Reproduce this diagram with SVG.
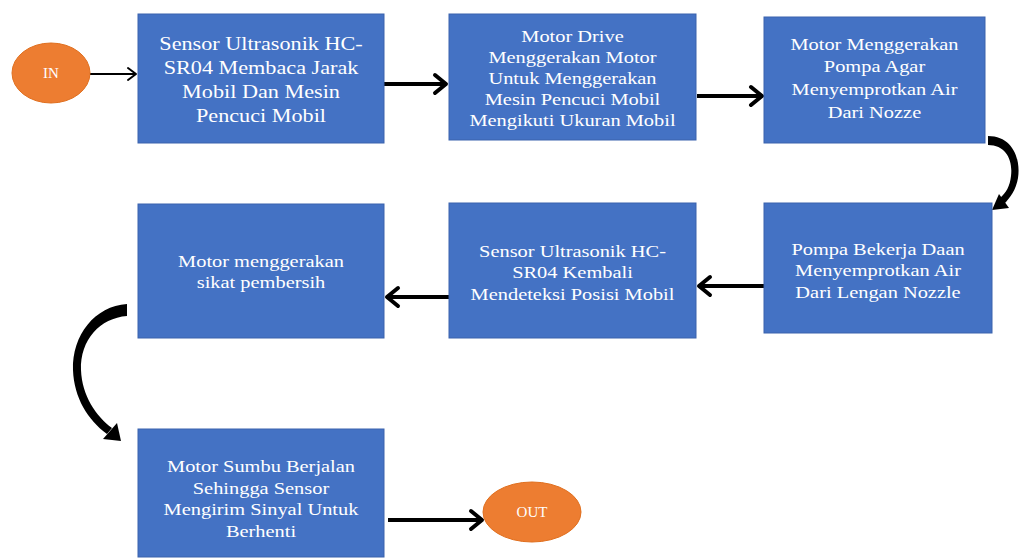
<svg xmlns="http://www.w3.org/2000/svg" width="1020" height="560" viewBox="0 0 1020 560">
<style>
.box{fill:#4472C4;stroke:#3A63AD;stroke-width:1}
.term{fill:#ED7D31;stroke:#E07020;stroke-width:1}
.lbl{fill:#FFFFFF;font-family:"Liberation Serif","Times New Roman",serif;font-size:17px;text-anchor:middle}
.big{font-size:18.5px}
.tl{fill:#FFFFFF;font-family:"Liberation Serif","Times New Roman",serif;font-size:15px;text-anchor:middle}
.thick{stroke:#000;stroke-width:4;fill:none}
.thin{stroke:#000;stroke-width:2;fill:none}
.blk{fill:#000;stroke:none}
</style>
<defs>
<marker id="chevL" markerUnits="userSpaceOnUse" markerWidth="18" markerHeight="24" viewBox="0 0 18 24" refX="14" refY="12" orient="auto">
<path d="M3,3 L14,12 L3,21" fill="none" stroke="#000" stroke-width="4" stroke-linecap="round" stroke-linejoin="round"/>
</marker>
<marker id="chevS" markerUnits="userSpaceOnUse" markerWidth="14" markerHeight="16" viewBox="0 0 14 16" refX="11" refY="8" orient="auto">
<path d="M3,2 L11,8 L3,14" fill="none" stroke="#000" stroke-width="2" stroke-linecap="round" stroke-linejoin="round"/>
</marker>
</defs>
<rect width="1020" height="560" fill="#FFFFFF"/>

<g id="connectors">
<line class="thin" x1="90" y1="74" x2="136" y2="74" marker-end="url(#chevS)"/>
<line class="thick" x1="384" y1="84" x2="446" y2="84" marker-end="url(#chevL)"/>
<line class="thick" x1="697" y1="96" x2="762" y2="96" marker-end="url(#chevL)"/>
<line class="thick" x1="764" y1="286" x2="699" y2="286" marker-end="url(#chevL)"/>
<line class="thick" x1="449" y1="297" x2="387" y2="297" marker-end="url(#chevL)"/>
<line class="thick" x1="388" y1="520" x2="482" y2="520" marker-end="url(#chevL)"/>
<path class="blk" d="M988,136 C1012,136 1021,158 1018,178 C1016,190 1010,198 1004,204 L1000,198 C1006,193 1010,186 1011,176 C1013,160 1006,145 988,145 Z"/>
<polygon class="blk" points="1009,208 999,194 992,210"/>
<path class="blk" d="M127,304 C95,306 72,335 73,370 C74,398 88,420 107,434 L112,428 C96,416 82,396 81,370 C80,340 100,318 127,316 Z"/>
<polygon class="blk" points="103,439 117,423 121,441"/>
</g>

<g id="node-in">
<ellipse class="term" cx="51" cy="73" rx="39" ry="30"/>
<text class="tl" x="51" y="78">IN</text>
</g>

<g id="node-1">
<rect class="box" x="138" y="14" width="246" height="129"/>
<text class="lbl big" transform="translate(261,0) scale(1.2,1)"><tspan x="0" y="50">Sensor Ultrasonik HC-</tspan><tspan x="0" y="74">SR04 Membaca Jarak</tspan><tspan x="0" y="98">Mobil Dan Mesin</tspan><tspan x="0" y="122">Pencuci Mobil</tspan></text>
</g>

<g id="node-2">
<rect class="box" x="449" y="14" width="247" height="126"/>
<text class="lbl" transform="translate(572.5,0) scale(1.2,1)"><tspan x="0" y="42">Motor Drive</tspan><tspan x="0" y="63">Menggerakan Motor</tspan><tspan x="0" y="84">Untuk Menggerakan</tspan><tspan x="0" y="105">Mesin Pencuci Mobil</tspan><tspan x="0" y="126">Mengikuti Ukuran Mobil</tspan></text>
</g>

<g id="node-3">
<rect class="box" x="764" y="17" width="221" height="126"/>
<text class="lbl" transform="translate(874.5,0) scale(1.2,1)"><tspan x="0" y="50">Motor Menggerakan</tspan><tspan x="0" y="72">Pompa Agar</tspan><tspan x="0" y="95">Menyemprotkan Air</tspan><tspan x="0" y="118">Dari Nozze</tspan></text>
</g>

<g id="node-4">
<rect class="box" x="764" y="203" width="228" height="130"/>
<text class="lbl" transform="translate(878,0) scale(1.2,1)"><tspan x="0" y="255">Pompa Bekerja Daan</tspan><tspan x="0" y="276">Menyemprotkan Air</tspan><tspan x="0" y="298">Dari Lengan Nozzle</tspan></text>
</g>

<g id="node-5">
<rect class="box" x="449" y="203" width="247" height="135"/>
<text class="lbl" transform="translate(572.5,0) scale(1.2,1)"><tspan x="0" y="257">Sensor Ultrasonik HC-</tspan><tspan x="0" y="278">SR04 Kembali</tspan><tspan x="0" y="300">Mendeteksi Posisi Mobil</tspan></text>
</g>

<g id="node-6">
<rect class="box" x="138" y="204" width="246" height="134"/>
<text class="lbl" transform="translate(261,0) scale(1.2,1)"><tspan x="0" y="267">Motor menggerakan</tspan><tspan x="0" y="288">sikat pembersih</tspan></text>
</g>

<g id="node-7">
<rect class="box" x="138" y="429" width="246" height="128"/>
<text class="lbl" transform="translate(261,0) scale(1.2,1)"><tspan x="0" y="472">Motor Sumbu Berjalan</tspan><tspan x="0" y="494">Sehingga Sensor</tspan><tspan x="0" y="515">Mengirim Sinyal Untuk</tspan><tspan x="0" y="537">Berhenti</tspan></text>
</g>

<g id="node-out">
<ellipse class="term" cx="532" cy="512" rx="49" ry="30"/>
<text class="tl" x="532" y="517">OUT</text>
</g>
</svg>
